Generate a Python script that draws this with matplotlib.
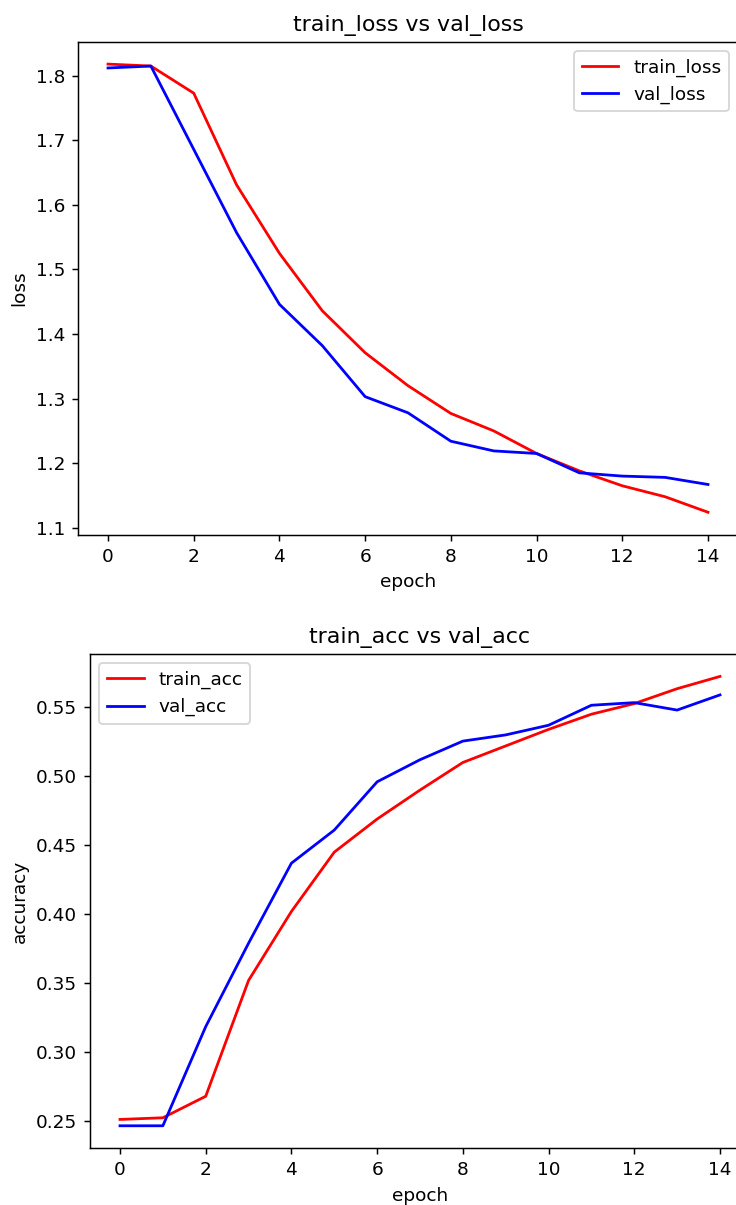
import matplotlib
matplotlib.use("Agg")
import matplotlib.pyplot as plt

epochs = list(range(15))
train_loss = [1.818, 1.815, 1.773, 1.631, 1.525, 1.436, 1.371, 1.320, 1.277, 1.250,
              1.215, 1.188, 1.165, 1.148, 1.124]
val_loss = [1.812, 1.815, 1.686, 1.557, 1.446, 1.382, 1.303, 1.278, 1.234, 1.219,
            1.215, 1.185, 1.180, 1.178, 1.167]
train_acc = [0.2512, 0.2524, 0.268, 0.352, 0.402, 0.445, 0.469, 0.490, 0.510, 0.522,
             0.534, 0.545, 0.5527, 0.5635, 0.5724]
val_acc = [0.2466, 0.2466, 0.3185, 0.379, 0.437, 0.461, 0.496, 0.512, 0.5255, 0.530,
           0.537, 0.5515, 0.5534, 0.548, 0.559]

DPI = 133
fig = plt.figure(figsize=(736 / DPI, 1205 / DPI), dpi=DPI)

ax1 = fig.add_axes([0.1060, 0.5563, 0.8967, 0.4091])
ax1.plot(epochs, train_loss, color="red", label="train_loss")
ax1.plot(epochs, val_loss, color="blue", label="val_loss")
ax1.set_title("train_loss vs val_loss")
ax1.set_xlabel("epoch")
ax1.set_ylabel("loss")
ax1.set_xticks([0, 2, 4, 6, 8, 10, 12, 14])
ax1.legend(loc="upper right")

ax2 = fig.add_axes([0.1223, 0.0471, 0.8967, 0.4102])
ax2.plot(epochs, train_acc, color="red", label="train_acc")
ax2.plot(epochs, val_acc, color="blue", label="val_acc")
ax2.set_title("train_acc vs val_acc")
ax2.set_xlabel("epoch")
ax2.set_ylabel("accuracy")
ax2.set_xticks([0, 2, 4, 6, 8, 10, 12, 14])
ax2.legend(loc="upper left")

fig.savefig("out.png", dpi=DPI)
